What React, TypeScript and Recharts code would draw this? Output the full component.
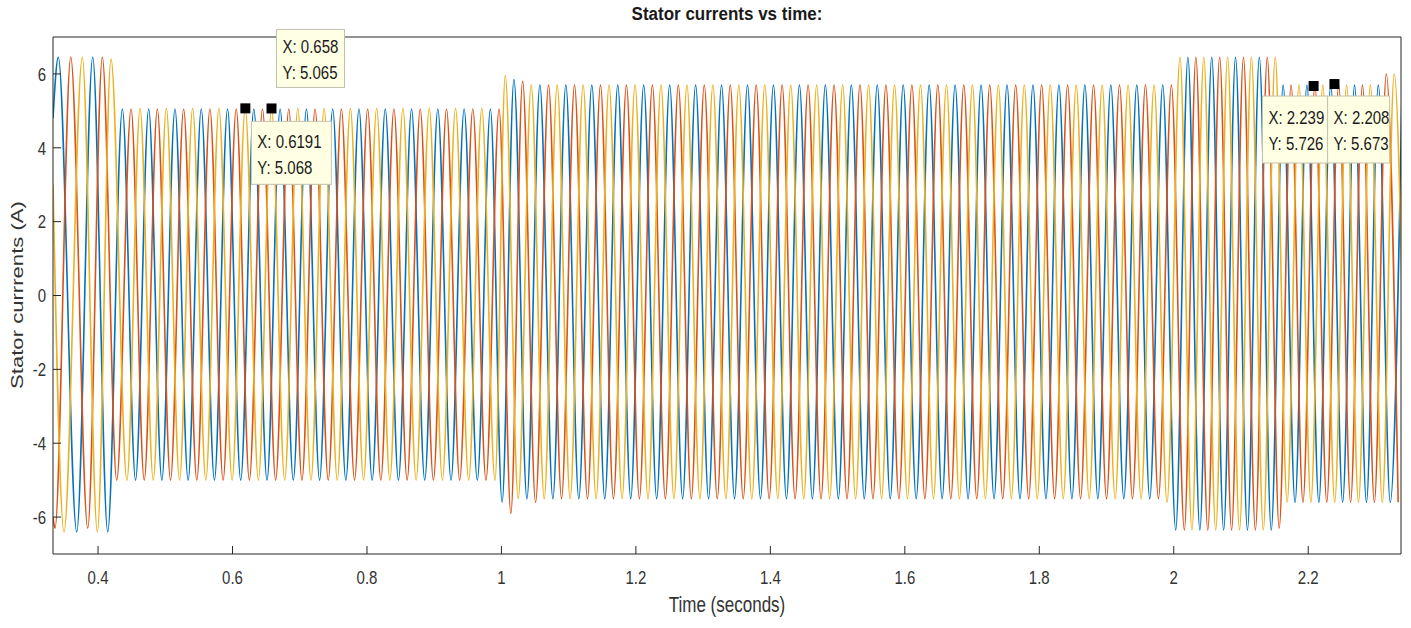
import { LineChart, Line, XAxis, YAxis, ReferenceDot } from 'recharts'

// stator currents, [time (s), current (A)] at every peak / trough
const phaseA: [number, number][] = [
  [0.333, 4.8], [0.3409, 6.45], [0.3683, -6.4], [0.3921, 6.45], [0.4144, -6.4],
  [0.4362, 5.05], [0.4558, -5.0], [0.4753, 5.05], [0.4949, -5.0], [0.5144, 5.05], [0.534, -5.0],
  [0.5535, 5.05], [0.5731, -5.0], [0.5926, 5.05], [0.6122, -5.0], [0.6317, 5.05], [0.6513, -5.0],
  [0.6708, 5.05], [0.6904, -5.0], [0.7099, 5.05], [0.7295, -5.0], [0.749, 5.05], [0.7686, -5.0],
  [0.7881, 5.05], [0.8077, -5.0], [0.8272, 5.05], [0.8468, -5.0], [0.8663, 5.05], [0.8859, -5.0],
  [0.9054, 5.05], [0.925, -5.0], [0.9445, 5.05], [0.9641, -5.0], [0.9836, 5.05], [1.001, -5.6],
  [1.0186, 5.85], [1.0379, -5.5], [1.0572, 5.7], [1.0765, -5.5], [1.0958, 5.7], [1.1151, -5.5],
  [1.1344, 5.7], [1.1537, -5.5], [1.173, 5.7], [1.1923, -5.5], [1.2116, 5.7], [1.2309, -5.5],
  [1.2502, 5.7], [1.2695, -5.5], [1.2888, 5.7], [1.3081, -5.5], [1.3274, 5.7], [1.3467, -5.5],
  [1.366, 5.7], [1.3853, -5.5], [1.4046, 5.7], [1.4239, -5.5], [1.4432, 5.7], [1.4625, -5.5],
  [1.4818, 5.7], [1.5011, -5.5], [1.5204, 5.7], [1.5397, -5.5], [1.559, 5.7], [1.5783, -5.5],
  [1.5976, 5.7], [1.6169, -5.5], [1.6362, 5.7], [1.6555, -5.5], [1.6748, 5.7], [1.6941, -5.5],
  [1.7134, 5.7], [1.7327, -5.5], [1.752, 5.7], [1.7713, -5.5], [1.7906, 5.7], [1.8099, -5.5],
  [1.8292, 5.7], [1.8485, -5.5], [1.8678, 5.7], [1.8871, -5.5], [1.9064, 5.7], [1.9257, -5.5],
  [1.945, 5.7], [1.9643, -5.5], [1.9836, 5.7], [2.0029, -6.35],
  [2.0211, 6.45], [2.0388, -6.35], [2.0565, 6.45], [2.0742, -6.35], [2.0919, 6.45], [2.1096, -6.35],
  [2.1273, 6.45], [2.145, -6.35],
  [2.1627, 5.7], [2.1804, -5.6], [2.1981, 5.7], [2.2158, -5.6], [2.2335, 5.7], [2.2512, -5.6],
  [2.2689, 5.7], [2.2866, -5.6], [2.3043, 5.7], [2.322, -5.6], [2.3397, 5.7],
]

const phaseB: [number, number][] = [
  [0.333, -6.0], [0.336, -6.3], [0.3594, 6.45], [0.3847, -6.3], [0.4064, 6.45], [0.4278, -5.0],
  [0.4491, 5.05], [0.4687, -5.0], [0.4882, 5.05], [0.5078, -5.0], [0.5273, 5.05], [0.5469, -5.0],
  [0.5664, 5.05], [0.586, -5.0], [0.6055, 5.05], [0.6251, -5.0], [0.6446, 5.05], [0.6642, -5.0],
  [0.6837, 5.05], [0.7033, -5.0], [0.7228, 5.05], [0.7424, -5.0], [0.7619, 5.05], [0.7815, -5.0],
  [0.801, 5.05], [0.8206, -5.0], [0.8401, 5.05], [0.8597, -5.0], [0.8792, 5.05], [0.8988, -5.0],
  [0.9183, 5.05], [0.9379, -5.0], [0.9574, 5.05], [0.977, -5.0], [0.9965, 5.05], [1.014, -5.9],
  [1.0315, 5.8], [1.0508, -5.6], [1.0701, 5.7], [1.0894, -5.5], [1.1087, 5.7], [1.128, -5.5],
  [1.1473, 5.7], [1.1666, -5.5], [1.1859, 5.7], [1.2052, -5.5], [1.2245, 5.7], [1.2438, -5.5],
  [1.2631, 5.7], [1.2824, -5.5], [1.3017, 5.7], [1.321, -5.5], [1.3403, 5.7], [1.3596, -5.5],
  [1.3789, 5.7], [1.3982, -5.5], [1.4175, 5.7], [1.4368, -5.5], [1.4561, 5.7], [1.4754, -5.5],
  [1.4947, 5.7], [1.514, -5.5], [1.5333, 5.7], [1.5526, -5.5], [1.5719, 5.7], [1.5912, -5.5],
  [1.6105, 5.7], [1.6298, -5.5], [1.6491, 5.7], [1.6684, -5.5], [1.6877, 5.7], [1.707, -5.5],
  [1.7263, 5.7], [1.7456, -5.5], [1.7649, 5.7], [1.7842, -5.5], [1.8035, 5.7], [1.8228, -5.5],
  [1.8421, 5.7], [1.8614, -5.5], [1.8807, 5.7], [1.9, -5.5], [1.9193, 5.7], [1.9386, -5.5],
  [1.9579, 5.7], [1.9772, -5.5], [1.9965, 5.7], [2.0158, -6.35],
  [2.0329, 6.45], [2.0506, -6.35], [2.0683, 6.45], [2.086, -6.35], [2.1037, 6.45], [2.1214, -6.35],
  [2.1391, 6.45], [2.1568, -6.3],
  [2.1745, 5.7], [2.1922, -5.6], [2.2099, 5.7], [2.2276, -5.6], [2.2453, 5.7], [2.263, -5.6],
  [2.2807, 5.7], [2.2984, -5.6], [2.3161, 6.0], [2.3338, -5.6],
]

const phaseC: [number, number][] = [
  [0.333, 3.0], [0.3494, -6.4], [0.3766, 6.45], [0.399, -6.4], [0.4193, 6.4], [0.443, -5.0],
  [0.4625, 5.07], [0.4821, -5.0], [0.5016, 5.07], [0.5212, -5.0], [0.5407, 5.07], [0.5603, -5.0],
  [0.5798, 5.07], [0.5994, -5.0], [0.6189, 5.07], [0.6385, -5.0], [0.658, 5.07], [0.6776, -5.0],
  [0.6971, 5.07], [0.7167, -5.0], [0.7362, 5.07], [0.7558, -5.0], [0.7753, 5.07], [0.7949, -5.0],
  [0.8144, 5.07], [0.834, -5.0], [0.8535, 5.07], [0.8731, -5.0], [0.8926, 5.07], [0.9122, -5.0],
  [0.9317, 5.07], [0.9513, -5.0], [0.9708, 5.07], [0.9904, -5.0],
  [1.0057, 5.95], [1.025, -5.5], [1.0443, 5.7], [1.0636, -5.5], [1.0829, 5.7], [1.1022, -5.5],
  [1.1215, 5.7], [1.1408, -5.5], [1.1601, 5.7], [1.1794, -5.5], [1.1987, 5.7], [1.218, -5.5],
  [1.2373, 5.7], [1.2566, -5.5], [1.2759, 5.7], [1.2952, -5.5], [1.3145, 5.7], [1.3338, -5.5],
  [1.3531, 5.7], [1.3724, -5.5], [1.3917, 5.7], [1.411, -5.5], [1.4303, 5.7], [1.4496, -5.5],
  [1.4689, 5.7], [1.4882, -5.5], [1.5075, 5.7], [1.5268, -5.5], [1.5461, 5.7], [1.5654, -5.5],
  [1.5847, 5.7], [1.604, -5.5], [1.6233, 5.7], [1.6426, -5.5], [1.6619, 5.7], [1.6812, -5.5],
  [1.7005, 5.7], [1.7198, -5.5], [1.7391, 5.7], [1.7584, -5.5], [1.7777, 5.7], [1.797, -5.5],
  [1.8163, 5.7], [1.8356, -5.5], [1.8549, 5.7], [1.8742, -5.5], [1.8935, 5.7], [1.9128, -5.5],
  [1.9321, 5.7], [1.9514, -5.5], [1.9707, 5.7], [1.99, -5.6],
  [2.0093, 6.45], [2.027, -6.35], [2.0447, 6.45], [2.0624, -6.35], [2.0801, 6.45], [2.0978, -6.35],
  [2.1155, 6.45], [2.1332, -6.35], [2.1509, 6.45],
  [2.1686, -5.6], [2.1863, 5.7], [2.204, -5.6], [2.2217, 5.7], [2.2394, -5.6], [2.2571, 5.7],
  [2.2748, -5.6], [2.2925, 5.7], [2.3102, -5.6], [2.3279, 6.0], [2.3456, -5.6],
]

const xTicks = [0.4, 0.6, 0.8, 1, 1.2, 1.4, 1.6, 1.8, 2, 2.2]
const yTicks = [-6, -4, -2, 0, 2, 4, 6]

// data tips shown on the figure
const tips = [
  { x: 0.658, y: 5.065 },
  { x: 0.6191, y: 5.068 },
  { x: 2.239, y: 5.726 },
  { x: 2.208, y: 5.673 },
]

// where each tip box sits relative to its marker
const tipBoxes = [
  { dx: 5, dy: -79, w: 68, h: 58 },
  { dx: 6, dy: 13, w: 80, h: 63 },
  { dx: -72, dy: 12, w: 65, h: 67 },
  { dx: 14, dy: 10, w: 62, h: 67 },
]

const toRows = (pts: [number, number][]) => pts.map(([t, i]) => ({ t, i }))

const font = '"Liberation Sans", Arial, Helvetica, sans-serif'
const axisColor = '#262626'
// the figure's text is a little taller than it is wide
const stretch = 1.25

const XTick = (props: any) => {
  const { x, y, payload } = props
  return (
    <g transform={`translate(${x},${y}) scale(1,${stretch})`}>
      <text textAnchor="middle" dy="0.71em" fontSize={15} fontFamily={font} fill="#333">
        {String(payload.value)}
      </text>
    </g>
  )
}

const YTick = (props: any) => {
  const { x, y, payload } = props
  return (
    <g transform={`translate(${x},${y}) scale(1,${stretch})`}>
      <text textAnchor="end" dy="0.36em" fontSize={15} fontFamily={font} fill="#333">
        {String(payload.value)}
      </text>
    </g>
  )
}

const tipShape = (tip: { x: number; y: number }, box: { dx: number; dy: number; w: number; h: number }) =>
  (props: any) => {
    const { cx, cy } = props
    const bx = cx + box.dx
    const by = cy + box.dy
    const mid = by + box.h / 2
    return (
      <g>
        <rect x={bx} y={by} width={box.w} height={box.h} fill="#ffffe3" stroke="#c2c2b0" />
        <g transform={`translate(${bx + 6},${mid - 12}) scale(1,${stretch})`}>
          <text dy="0.36em" fontSize={15} fontFamily={font} fill="#1a1a1a">X: {String(tip.x)}</text>
        </g>
        <g transform={`translate(${bx + 6},${mid + 14}) scale(1,${stretch})`}>
          <text dy="0.36em" fontSize={15} fontFamily={font} fill="#1a1a1a">Y: {tip.y.toFixed(3)}</text>
        </g>
        <rect x={cx - 5} y={cy - 5} width={10} height={10} fill="#000" />
      </g>
    )
  }

const App = () => {
  return (
    <div style={{ position: 'absolute', left: 0, top: 0, width: 1411, height: 628, background: '#fff' }}>
      <LineChart width={1411} height={628} margin={{ top: 36, right: 9, bottom: 44, left: 8 }}>
        <XAxis
          dataKey="t"
          type="number"
          domain={[0.333, 2.338]}
          allowDataOverflow
          ticks={xTicks}
          interval={0}
          height={30}
          tickSize={-8}
          tickMargin={25}
          stroke={axisColor}
          tick={<XTick />}
        />
        <XAxis
          xAxisId="top"
          orientation="top"
          type="number"
          domain={[0.333, 2.338]}
          allowDataOverflow
          ticks={xTicks}
          interval={0}
          height={1}
          tickSize={-8}
          tick={false}
          stroke={axisColor}
        />
        <YAxis
          type="number"
          domain={[-7, 7]}
          allowDataOverflow
          ticks={yTicks}
          interval={0}
          width={45}
          tickSize={-8}
          tickMargin={15}
          stroke={axisColor}
          tick={<YTick />}
        />
        <YAxis
          yAxisId="right"
          orientation="right"
          type="number"
          domain={[-7, 7]}
          allowDataOverflow
          ticks={yTicks}
          interval={0}
          width={1}
          tickSize={-8}
          tick={false}
          stroke={axisColor}
        />
        <Line data={toRows(phaseA)} dataKey="i" type="monotone" stroke="#0072BD" strokeWidth={1.6} dot={false} activeDot={false} isAnimationActive={false} />
        <Line data={toRows(phaseB)} dataKey="i" type="monotone" stroke="#D95319" strokeWidth={1.6} dot={false} activeDot={false} isAnimationActive={false} />
        <Line data={toRows(phaseC)} dataKey="i" type="monotone" stroke="#EDB120" strokeWidth={1.6} dot={false} activeDot={false} isAnimationActive={false} />
        {tips.map((tip, k) => (
          <ReferenceDot key={k} x={tip.x} y={tip.y} r={5} ifOverflow="visible" shape={tipShape(tip, tipBoxes[k])} />
        ))}
      </LineChart>
      <div style={{ position: 'absolute', left: 577, top: 4, width: 300, textAlign: 'center', fontFamily: font, fontWeight: 'bold', fontSize: 17, color: '#1a1a1a', transform: 'scaleY(1.1)' }}>
        Stator currents vs time:
      </div>
      <div style={{ position: 'absolute', left: 577, top: 596, width: 300, textAlign: 'center', fontFamily: font, fontSize: 17, color: '#333', transform: `scaleY(${stretch})` }}>
        Time (seconds)
      </div>
      <div style={{ position: 'absolute', left: -132, top: 284, width: 300, height: 22, lineHeight: '22px', textAlign: 'center', fontFamily: font, fontSize: 17, color: '#333', transform: `rotate(-90deg) scaleX(1.3)` }}>
        Stator currrents (A)
      </div>
    </div>
  )
}

export default App
